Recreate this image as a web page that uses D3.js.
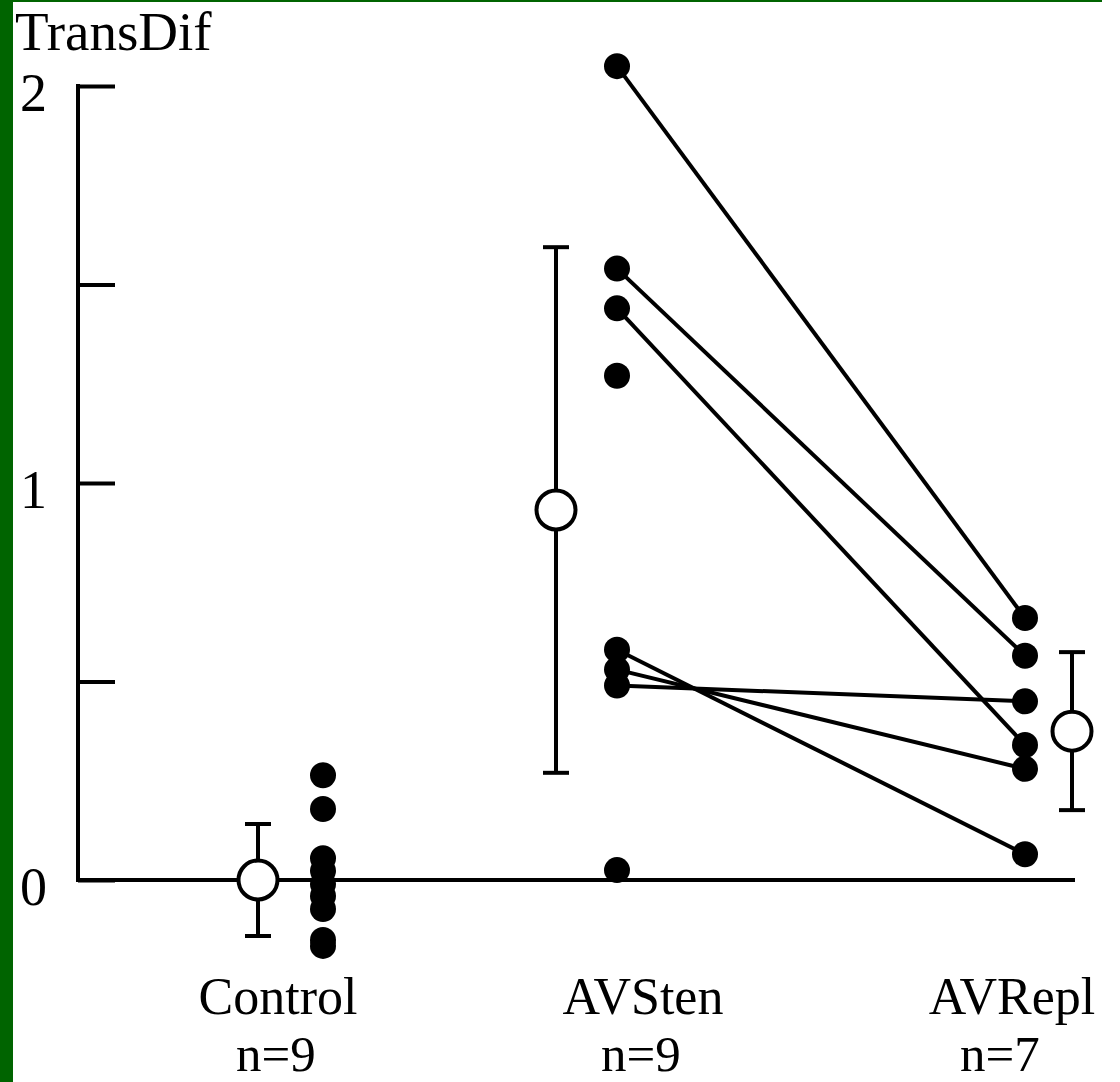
<!DOCTYPE html>
<html>
<head>
<meta charset="utf-8">
<script src="https://cdn.jsdelivr.net/npm/d3@7"></script>
<style>
  html, body { margin: 0; padding: 0; background: #fff; }
  svg { display: block; }
  text { font-family: "Liberation Serif", "Times New Roman", serif; fill: #000; }
</style>
</head>
<body>
<svg id="chart" width="1120" height="1082"></svg>
<script>
// ---- data ----
const categories = ["Control", "AVSten", "AVRepl"];
const groupN = ["n=9", "n=9", "n=7"];
const yTickValues = [0, 0.5, 1, 1.5, 2];
const yTickLabels = ["0", "1", "2"];
const yTickLabelValues = [0, 1, 2];
const yTitle = "TransDif";

const controlValues = [0.264, 0.179, 0.055, 0.023, -0.010, -0.040, -0.073, -0.151, -0.166];
const stenPaired = [2.05, 1.54, 1.44, 0.58, 0.53, 0.49];
const replPaired = [0.66, 0.565, 0.34, 0.065, 0.28, 0.45];
const stenUnpaired = [1.27, 0.025];

const meanValues = [0.0, 0.932, 0.375];
const errValues = [0.141, 0.662, 0.199];

// ---- layout ----
const svg = d3.select("#chart");
const W = 1120, H = 1082;

svg.append("rect").attr("x", 0).attr("y", 0).attr("width", W).attr("height", H).attr("fill", "#fff");
svg.append("rect").attr("x", 0).attr("y", 0).attr("width", 13).attr("height", H).attr("fill", "#006400");
svg.append("rect").attr("x", 0).attr("y", 0).attr("width", 1102).attr("height", 2).attr("fill", "#006400");

const y = d3.scaleLinear().domain([0, 2]).range([880, 86]);
const axisX = 78;
const baselineEnd = 1075;

const xLabel = d3.scaleOrdinal().domain(categories).range([278, 643, 1012]);
const xMean = d3.scaleOrdinal().domain(categories).range([258, 556, 1072]);
const xPts = d3.scaleOrdinal().domain(categories).range([323, 617, 1025]);

const SW = 4;

// y axis
const axis = d3.axisRight(y).tickValues(yTickValues).tickSize(37).tickSizeOuter(0).tickFormat("");
const gAxis = svg.append("g").attr("transform", `translate(${axisX},0)`).call(axis);
gAxis.selectAll("path.domain").attr("stroke", "#000").attr("stroke-width", SW)
  .attr("d", `M0,${y(2) - 2}V${y(0)}`);
gAxis.selectAll(".tick line").attr("stroke", "#000").attr("stroke-width", SW);

// baseline at 0
svg.append("line").attr("x1", axisX - 2).attr("x2", baselineEnd)
  .attr("y1", y(0)).attr("y2", y(0)).attr("stroke", "#000").attr("stroke-width", SW);

// tick labels
svg.selectAll("text.ylab").data(yTickLabelValues).enter().append("text")
  .attr("class", "ylab")
  .attr("x", 20).attr("y", d => y(d) + 25)
  .attr("font-size", 54)
  .text((d, i) => yTickLabels[i]);

// title
svg.append("text").attr("x", 15).attr("y", 50).attr("font-size", 55).text(yTitle);

// category labels
svg.selectAll("text.cat").data(categories).enter().append("text")
  .attr("class", "cat").attr("text-anchor", "middle")
  .attr("x", d => xLabel(d)).attr("y", 1014).attr("font-size", 52)
  .text(d => d);
svg.selectAll("text.nlab").data(categories).enter().append("text")
  .attr("class", "nlab").attr("text-anchor", "middle")
  .attr("x", (d, i) => xLabel(d) - (i === 2 ? 12 : 2)).attr("y", 1071).attr("font-size", 51)
  .text((d, i) => groupN[i]);

// paired lines
const pairs = stenPaired.map((v, i) => [v, replPaired[i]]);
svg.selectAll("line.pair").data(pairs).enter().append("line")
  .attr("class", "pair")
  .attr("x1", xPts("AVSten")).attr("y1", d => y(d[0]))
  .attr("x2", xPts("AVRepl")).attr("y2", d => y(d[1]))
  .attr("stroke", "#000").attr("stroke-width", SW);

// raw points
const R = 13;
function dots(vals, cat) {
  svg.append("g").selectAll("circle").data(vals).enter().append("circle")
    .attr("cx", xPts(cat)).attr("cy", d => y(d)).attr("r", R).attr("fill", "#000");
}
dots(controlValues, "Control");
dots(stenPaired.concat(stenUnpaired), "AVSten");
dots(replPaired, "AVRepl");

// mean +/- error bars
const capHalf = 13;
categories.forEach((cat, i) => {
  const cx = xMean(cat), m = meanValues[i], e = errValues[i];
  const g = svg.append("g");
  g.append("line").attr("x1", cx).attr("x2", cx).attr("y1", y(m + e)).attr("y2", y(m - e))
    .attr("stroke", "#000").attr("stroke-width", SW);
  [m + e, m - e].forEach(v => {
    g.append("line").attr("x1", cx - capHalf).attr("x2", cx + capHalf)
      .attr("y1", y(v)).attr("y2", y(v)).attr("stroke", "#000").attr("stroke-width", SW);
  });
  g.append("circle").attr("cx", cx).attr("cy", y(m)).attr("r", 19.5)
    .attr("fill", "#fff").attr("stroke", "#000").attr("stroke-width", SW);
});
</script>
</body>
</html>
